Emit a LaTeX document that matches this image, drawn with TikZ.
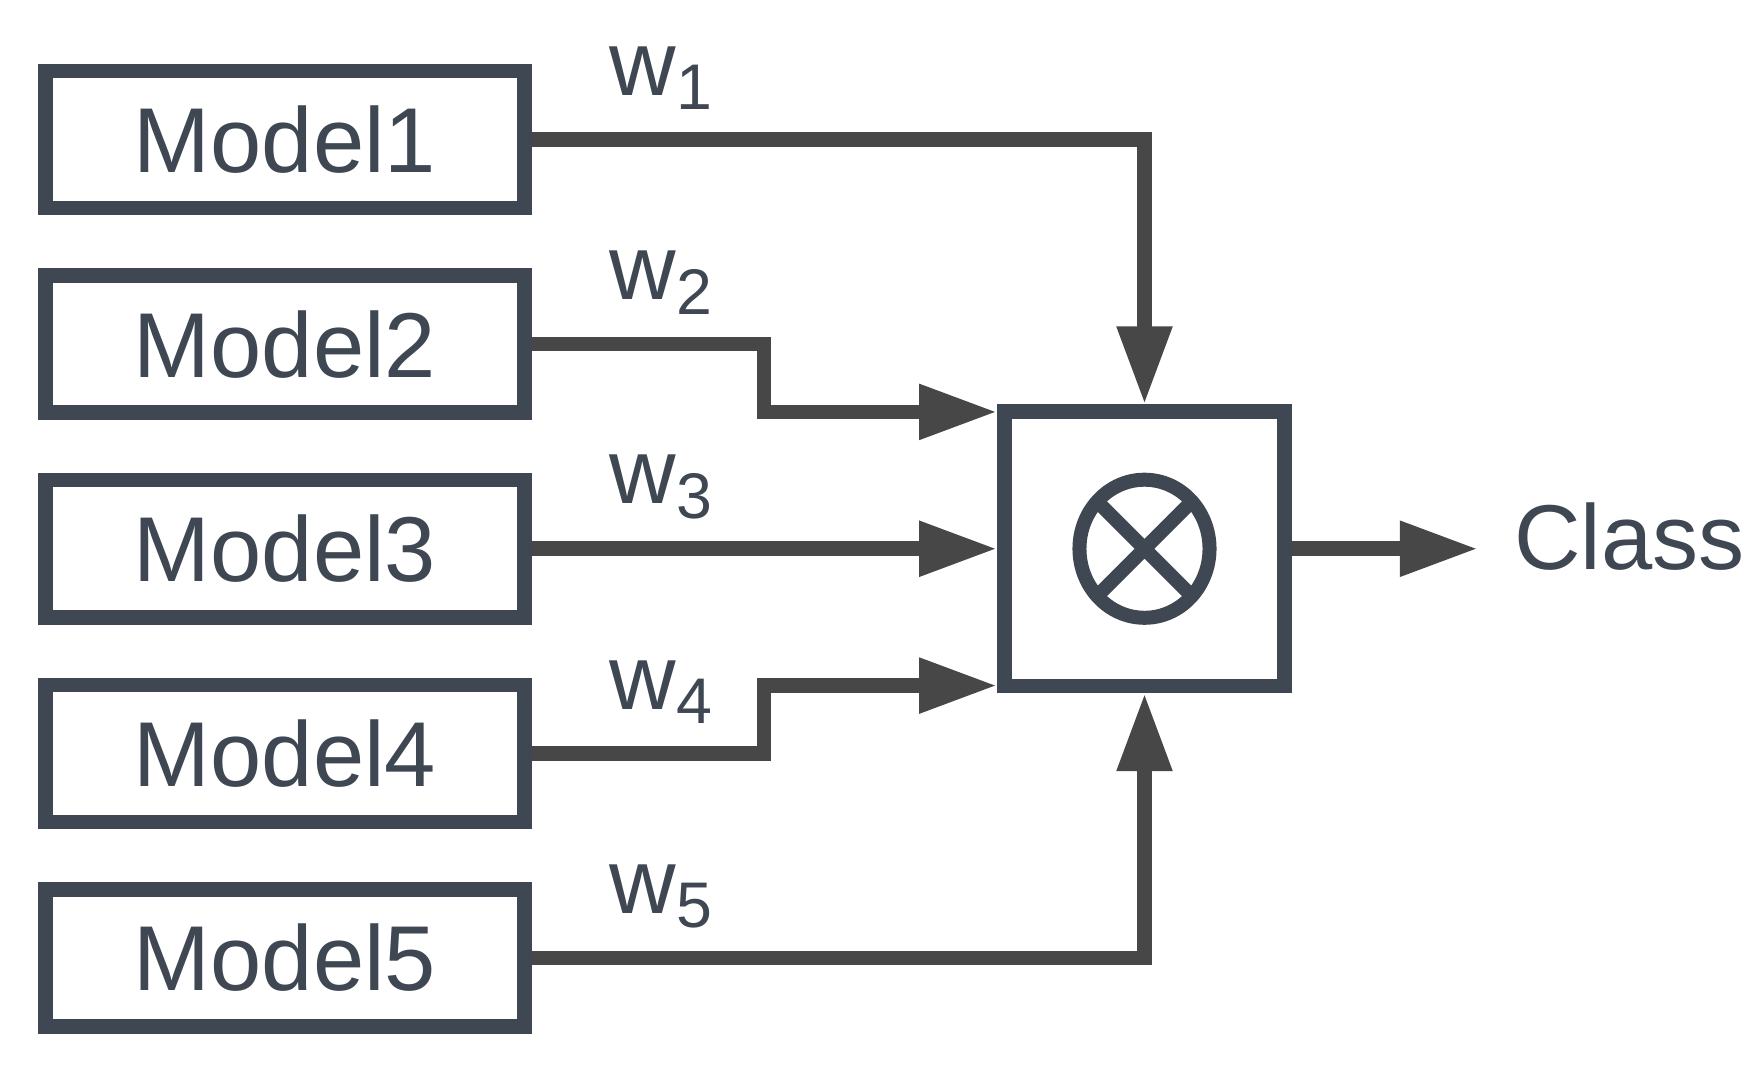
\documentclass[tikz,border=0pt]{standalone}
\usepackage{fontspec}
\setmainfont{Liberation Sans}
\usetikzlibrary{positioning,arrows.meta,shapes.geometric}
\definecolor{boxcol}{HTML}{3E4752}
\definecolor{arrcol}{HTML}{474747}

\begin{document}
\begin{tikzpicture}[x=0.01cm, y=-0.01cm, node distance=0.53cm,
    every node/.style={text=boxcol, font=\fontsize{26.2pt}{30pt}\selectfont},
    model/.style={draw=boxcol, line width=0.145cm, minimum width=4.79cm, minimum height=1.37cm, inner sep=0pt},
    prodbox/.style={draw=boxcol, line width=0.145cm, minimum width=2.8cm, minimum height=2.74cm, inner sep=0pt},
    wlbl/.style={inner sep=0pt, outer sep=0pt},
    flow/.style={draw=arrcol, line width=0.145cm, -{Triangle[length=0.78cm, width=0.52cm]}}]
    \useasboundingbox (0,0) rectangle (1763,1078);
    % models
    \node[model] (m1) at (285,139.5) {Model1};
    \node[model, below=of m1] (m2) {Model2};
    \node[model, below=of m2] (m3) {Model3};
    \node[model, below=of m3] (m4) {Model4};
    \node[model, below=of m4] (m5) {Model5};
    % weights
    \node[wlbl, above right=0.30cm and 0.78cm of m1.east] (w1) {w\textsubscript{1}};
    \node[wlbl, above right=0.30cm and 0.78cm of m2.east] (w2) {w\textsubscript{2}};
    \node[wlbl, above right=0.30cm and 0.78cm of m3.east] (w3) {w\textsubscript{3}};
    \node[wlbl, above right=0.30cm and 0.78cm of m4.east] (w4) {w\textsubscript{4}};
    \node[wlbl, above right=0.30cm and 0.78cm of m5.east] (w5) {w\textsubscript{5}};
    % product
    \node[prodbox, right=4.65cm of m3] (prod) {};
    \node[draw=boxcol, line width=0.14cm, ellipse, minimum width=1.3cm, minimum height=1.38cm, inner sep=0pt, outer sep=0pt] (sum) at (prod.center) {};
    \draw[boxcol, line width=0.14cm] (sum.135) -- (sum.-45) (sum.45) -- (sum.-135);
    \node[right=1.86cm of prod, yshift=0.125cm, inner xsep=0.355cm, inner ysep=0pt] (cls) {Class};
    \coordinate (in2) at ([yshift=-0.075cm]prod.north west);
    \coordinate (in4) at ([yshift=0.075cm]prod.south west);
    % connectors
    \draw[flow] (m1.east) -| (prod.north);
    \draw[flow] (m2.east) -- ++(232,0) |- (in2);
    \draw[flow] (m3.east) -- (prod.west);
    \draw[flow] (m4.east) -- ++(232,0) |- (in4);
    \draw[flow] (m5.east) -| (prod.south);
    \draw[flow] (prod.east) -- (prod.east -| cls.west);
\end{tikzpicture}
\end{document}
